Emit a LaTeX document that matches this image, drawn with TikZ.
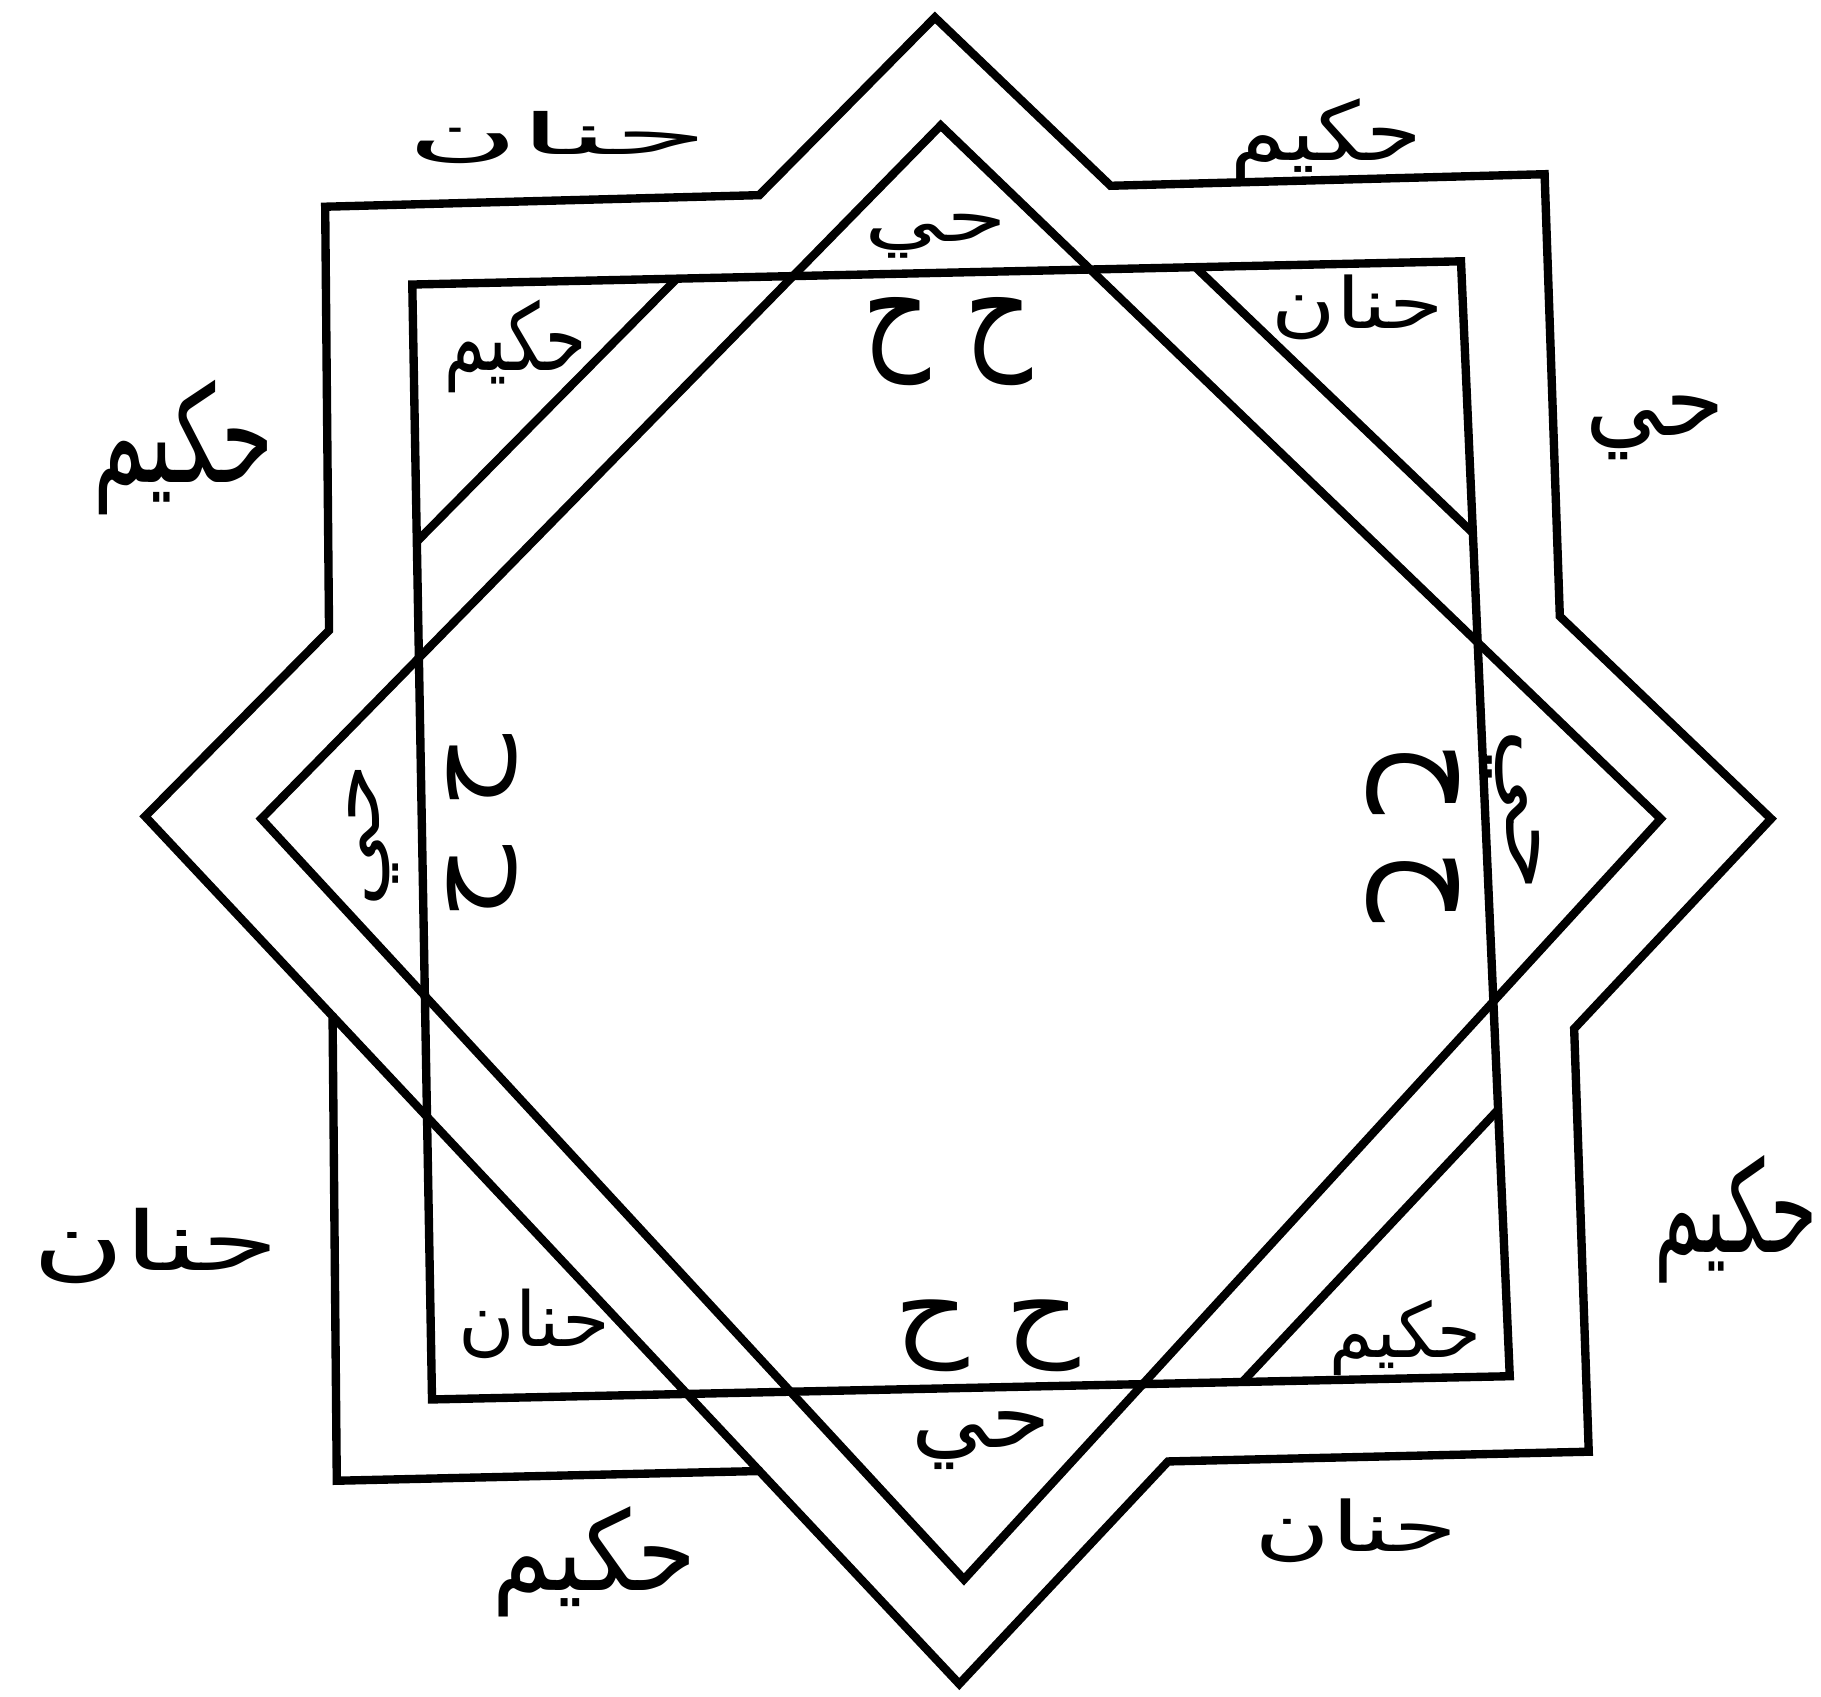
\documentclass[tikz,border=0pt]{standalone}
\usepackage{fontspec}
\newfontfamily\arabicfont[Script=Arabic]{DejaVu Sans}
\TeXXeTstate=1
\newcommand\arbox[3]{\resizebox*{#1pt}{#2pt}{\arabicfont #3}}
\begin{document}
\begin{tikzpicture}[x=0.5pt,y=-0.5pt,
  band/.style={line width=3.6pt,line join=miter,line cap=butt},
  word/.style={inner sep=0pt,outer sep=0pt}]
\useasboundingbox (0,0) rectangle (1568,1461);
% outer diamond
\coordinate (DT) at (805,15);
\coordinate (DR) at (1525,705);
\coordinate (DB) at (826,1450);
\coordinate (DL) at (125,703);
% outer square
\coordinate (Sa) at (280,178);
\coordinate (Sb) at (1330,150);
\coordinate (Sc) at (1368,1250);
\coordinate (Sd) at (290,1275);
% inner square
\coordinate (Qa) at (355,245);
\coordinate (Qb) at (1258,225);
\coordinate (Qc) at (1300,1185);
\coordinate (Qd) at (372,1205);
% inner diamond
\coordinate (Ea) at (810,108);
\coordinate (Eb) at (1430,705);
\coordinate (Ec) at (830,1360);
\coordinate (Ed) at (225,705);
% outer star inner corners
\coordinate (o1) at (intersection of DT--DR and Sa--Sb);
\coordinate (o2) at (intersection of DT--DR and Sb--Sc);
\coordinate (o3) at (intersection of DR--DB and Sb--Sc);
\coordinate (o4) at (intersection of DR--DB and Sc--Sd);
\coordinate (o5) at (intersection of DB--DL and Sc--Sd);
\coordinate (o6) at (intersection of DB--DL and Sd--Sa);
\coordinate (o7) at (intersection of DL--DT and Sd--Sa);
\coordinate (o8) at (intersection of DL--DT and Sa--Sb);
% cut lines of the outer diamond inside the inner square
\coordinate (c1a) at (intersection of DL--DT and Qd--Qa);
\coordinate (c1b) at (intersection of DL--DT and Qa--Qb);
\coordinate (c2a) at (intersection of DT--DR and Qa--Qb);
\coordinate (c2b) at (intersection of DT--DR and Qb--Qc);
\coordinate (c3a) at (intersection of DR--DB and Qb--Qc);
\coordinate (c3b) at (intersection of DR--DB and Qc--Qd);

\draw[band] (DT) -- (o1) -- (Sb) -- (o2) -- (DR) -- (o3) -- (Sc) -- (o4) -- (DB)
  -- (o5) -- (Sd) -- (o6) -- (DL) -- (o7) -- (Sa) -- (o8) -- cycle;
\draw[band] (Qa) -- (Qb) -- (Qc) -- (Qd) -- cycle;
\draw[band] (Ea) -- (Eb) -- (Ec) -- (Ed) -- cycle;
\draw[band] (c1a) -- (c1b);
\draw[band] (c2a) -- (c2b);
\draw[band] (c3a) -- (c3b);
\draw[band] (o6) -- (o5);

% outer words
\node[word] (w1) at (480,118) {\arbox{130}{22.5}{\beginR حنان\endR}};
\node[word] (w2) at (1142,120) {\arbox{82.5}{35}{\beginR حكيم\endR}};
\node[word] (w3) at (1425,368) {\arbox{60}{27.5}{\beginR حي\endR}};
\node[word] (w4) at (158,385) {\arbox{77.5}{58}{\beginR حكيم\endR}};
\node[word] (w5) at (1495,1050) {\arbox{70}{55}{\beginR حكيم\endR}};
\node[word] (w6) at (134,1073) {\arbox{106}{32.5}{\beginR حنان\endR}};
\node[word] (w7) at (512,1345) {\arbox{87.5}{47.5}{\beginR حكيم\endR}};
\node[word] (w8) at (1168,1318) {\arbox{87.5}{27.5}{\beginR حنان\endR}};
% inner words
\node[word] (i1) at (806,203) {\arbox{61.5}{19}{\beginR حي\endR}};
\node[word] (i2) at (816,294) {\arbox{73}{38}{\beginR ح ح\endR}};
\node[word] (i3) at (444,298) {\arbox{61}{40}{\beginR حكيم\endR}};
\node[word] (i4) at (1169,265) {\arbox{74}{28}{\beginR حنان\endR}};
\node[word,rotate=90] (i5) at (322,719) {\arbox{62}{21.5}{\beginR حي\endR}};
\node[word,rotate=90] (i6) at (415,712) {\arbox{79.5}{30}{\beginR ح ح\endR}};
\node[word,rotate=-90] (i7) at (1217,717) {\arbox{77.5}{40}{\beginR ح ح\endR}};
\node[word,rotate=-90] (i8) at (1303,698) {\arbox{70.5}{23}{\beginR حي\endR}};
\node[word] (i9) at (850,1150) {\arbox{80}{31}{\beginR ح ح\endR}};
\node[word] (i10) at (845,1240) {\arbox{60}{25}{\beginR حي\endR}};
\node[word] (i11) at (460,1140) {\arbox{65}{30}{\beginR حنان\endR}};
\node[word] (i12) at (1210,1152) {\arbox{65}{32.5}{\beginR حكيم\endR}};
\end{tikzpicture}
\end{document}
